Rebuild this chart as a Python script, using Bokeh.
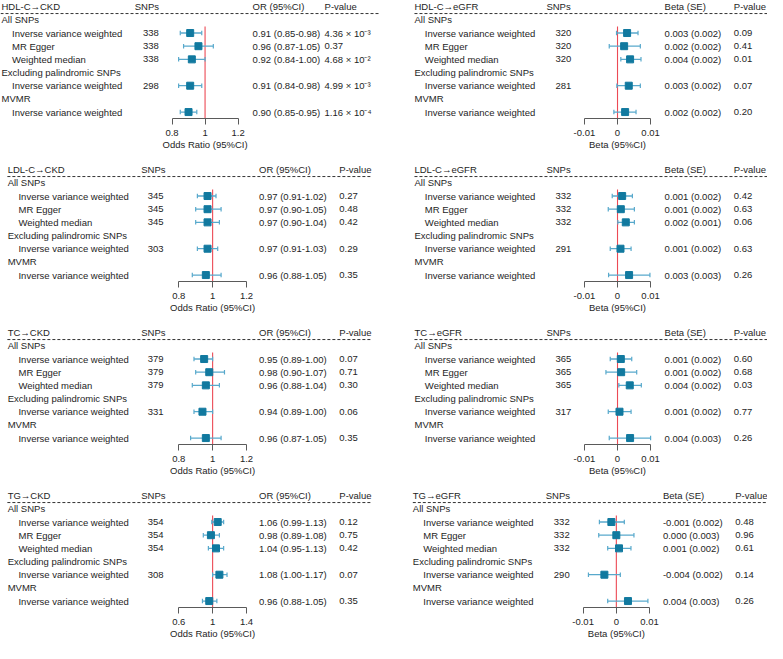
import numpy as np
from bokeh.plotting import figure
from bokeh.models import Range1d, LinearAxis, FixedTicker, Title
from bokeh.layouts import gridplot
from bokeh.embed import file_html
from bokeh.resources import INLINE
from bokeh.core.properties import value

# ---------------- data ----------------
groups = ["All SNPs", "Excluding palindromic SNPs", "MVMR"]
methods = ["Inverse variance weighted", "MR Egger", "Weighted median",
           "Inverse variance weighted", "Inverse variance weighted"]

ckd_ticks = [0.8, 1, 1.2]
ckd_tick_labels = ["0.8", "1", "1.2"]
tg_ckd_ticks = [0.6, 1, 1.4]
tg_ckd_tick_labels = ["0.6", "1", "1.4"]
egfr_ticks = [-0.01, 0, 0.01]
egfr_tick_labels = ["-0.01", "0", "0.01"]

# HDL-C -> CKD
hdl_ckd_snps = ["338", "338", "338", "298", ""]
hdl_ckd_or = [0.91, 0.96, 0.92, 0.91, 0.90]
hdl_ckd_lo = [0.85, 0.87, 0.84, 0.84, 0.85]
hdl_ckd_hi = [0.98, 1.05, 1.00, 0.98, 0.95]
hdl_ckd_txt = ["0.91 (0.85-0.98)", "0.96 (0.87-1.05)", "0.92 (0.84-1.00)", "0.91 (0.84-0.98)", "0.90 (0.85-0.95)"]
hdl_ckd_p = ["4.36 × 10⁻³", "0.37", "4.68 × 10⁻²", "4.99 × 10⁻³", "1.16 × 10⁻⁴"]

# LDL-C -> CKD
ldl_ckd_snps = ["345", "345", "345", "303", ""]
ldl_ckd_or = [0.97, 0.97, 0.97, 0.97, 0.96]
ldl_ckd_lo = [0.91, 0.90, 0.90, 0.91, 0.88]
ldl_ckd_hi = [1.02, 1.05, 1.04, 1.03, 1.05]
ldl_ckd_txt = ["0.97 (0.91-1.02)", "0.97 (0.90-1.05)", "0.97 (0.90-1.04)", "0.97 (0.91-1.03)", "0.96 (0.88-1.05)"]
ldl_ckd_p = ["0.27", "0.48", "0.42", "0.29", "0.35"]

# TC -> CKD
tc_ckd_snps = ["379", "379", "379", "331", ""]
tc_ckd_or = [0.95, 0.98, 0.96, 0.94, 0.96]
tc_ckd_lo = [0.89, 0.90, 0.88, 0.89, 0.87]
tc_ckd_hi = [1.00, 1.07, 1.04, 1.00, 1.05]
tc_ckd_txt = ["0.95 (0.89-1.00)", "0.98 (0.90-1.07)", "0.96 (0.88-1.04)", "0.94 (0.89-1.00)", "0.96 (0.87-1.05)"]
tc_ckd_p = ["0.07", "0.71", "0.30", "0.06", "0.35"]

# TG -> CKD
tg_ckd_snps = ["354", "354", "354", "308", ""]
tg_ckd_or = [1.06, 0.98, 1.04, 1.08, 0.96]
tg_ckd_lo = [0.99, 0.89, 0.95, 1.00, 0.88]
tg_ckd_hi = [1.13, 1.08, 1.13, 1.17, 1.05]
tg_ckd_txt = ["1.06 (0.99-1.13)", "0.98 (0.89-1.08)", "1.04 (0.95-1.13)", "1.08 (1.00-1.17)", "0.96 (0.88-1.05)"]
tg_ckd_p = ["0.12", "0.75", "0.42", "0.07", "0.35"]

# HDL-C -> eGFR
hdl_egfr_snps = ["320", "320", "320", "281", ""]
hdl_egfr_beta = [0.0029, 0.0020, 0.0038, 0.0034, 0.0023]
hdl_egfr_lo = [-0.0003, -0.0025, 0.0010, -0.0002, -0.0011]
hdl_egfr_hi = [0.0062, 0.0069, 0.0071, 0.0069, 0.0056]
hdl_egfr_txt = ["0.003 (0.002)", "0.002 (0.002)", "0.004 (0.002)", "0.003 (0.002)", "0.002 (0.002)"]
hdl_egfr_p = ["0.09", "0.41", "0.01", "0.07", "0.20"]

# LDL-C -> eGFR
ldl_egfr_snps = ["332", "332", "332", "291", ""]
ldl_egfr_beta = [0.0014, 0.0010, 0.0025, 0.0009, 0.0035]
ldl_egfr_lo = [-0.0016, -0.0028, 0.0001, -0.0022, -0.0027]
ldl_egfr_hi = [0.0045, 0.0051, 0.0051, 0.0041, 0.0098]
ldl_egfr_txt = ["0.001 (0.002)", "0.001 (0.002)", "0.002 (0.001)", "0.001 (0.002)", "0.003 (0.003)"]
ldl_egfr_p = ["0.42", "0.63", "0.06", "0.63", "0.26"]

# TC -> eGFR
tc_egfr_snps = ["365", "365", "365", "317", ""]
tc_egfr_beta = [0.0010, 0.0011, 0.0037, 0.0006, 0.0038]
tc_egfr_lo = [-0.0022, -0.0035, 0.0004, -0.0028, -0.0025]
tc_egfr_hi = [0.0043, 0.0058, 0.0072, 0.0041, 0.0100]
tc_egfr_txt = ["0.001 (0.002)", "0.001 (0.002)", "0.004 (0.002)", "0.001 (0.002)", "0.004 (0.003)"]
tc_egfr_p = ["0.60", "0.68", "0.03", "0.77", "0.26"]

# TG -> eGFR
tg_egfr_snps = ["332", "332", "332", "290", ""]
tg_egfr_beta = [-0.0015, 0.0000, 0.0008, -0.0036, 0.0035]
tg_egfr_lo = [-0.0051, -0.0053, -0.0026, -0.0084, -0.0026]
tg_egfr_hi = [0.0024, 0.0053, 0.0044, 0.0012, 0.0095]
tg_egfr_txt = ["-0.001 (0.002)", "0.000 (0.003)", "0.001 (0.002)", "-0.004 (0.002)", "0.004 (0.003)"]
tg_egfr_p = ["0.48", "0.96", "0.61", "0.14", "0.26"]

# ---------------- style / layout ----------------
FONT = "Liberation Sans"
FS = "9.5px"
TXT = "#1e1e1e"
SQ = "#11799f"
CIC = "#58a9cc"
RED = "#ec4a55"
AXC = "#5a5a5a"

W_PX = [383, 384]
X_REF = [(0, 390), (390, 783)]
R0S = [18, 186, 354, 522]
H_PX = [163, 163, 163, 154]
FRAME_PX = 118
ROW = 13.62
GROUP_ROWS = [0, 4, 6]
METHOD_ROWS = [1, 2, 3, 5, 7]

LAY_CKD_HDL = dict(title=1, indent=11.7, snps=136.7, num=145, est=256.7, p=330, nullx=208.3, k=168.3, dash=(0, 386))
LAY_CKD = dict(title=7.3, indent=18.3, snps=143.3, num=150, est=263.3, p=345, nullx=216, k=172.5, dash=(7, 378))
LAY_CKD_TG = dict(LAY_CKD, k=86.25)
LAY_EGFR = dict(title=421.7, indent=432.3, snps=556.7, num=566, est=677.7, p=748.5, nullx=629.5, k=3385, dash=(421.7, 783))
LAY_EGFR_TG = dict(title=420, indent=430.7, snps=556, num=564.3, est=676, p=750, nullx=628.3, k=3400, dash=(420, 783))

# approximate rendered widths (px) of the axis titles, used to centre them under the null line
LABEL_W = {"Odds Ratio (95%CI)": 85.0, "Beta (95%CI)": 57.0}


def make_panel(i, col, title, est_head, xlabel, null, ticks, tick_labels,
               snps, est, lo, hi, est_txt, pvals, lay):
    x0, x1 = X_REF[col]
    r0 = R0S[i]
    top, bot = r0 - 20, r0 + 102
    p = figure(width=W_PX[col], height=H_PX[i], output_backend="svg", toolbar_location=None,
               x_range=Range1d(x0, x1), y_range=Range1d(bot, top),
               x_axis_location=None, y_axis_location=None,
               min_border_left=0, min_border_right=0, min_border_top=0,
               min_border_bottom=H_PX[i] - FRAME_PX, outline_line_color=None,
               background_fill_color="white", border_fill_color="white")
    p.xgrid.visible = False
    p.ygrid.visible = False

    nx, k = lay["nullx"], lay["k"]
    p.extra_x_ranges = {"f": Range1d(null + (x0 - nx) / k, null + (x1 - nx) / k)}

    ax = LinearAxis(x_range_name="f", ticker=FixedTicker(ticks=ticks),
                    bounds=(ticks[0], ticks[-1]),
                    major_label_overrides={t: l for t, l in zip(ticks, tick_labels)})
    ax.major_label_text_font = FONT
    ax.major_label_text_font_size = FS
    ax.major_label_text_color = TXT
    ax.major_label_standoff = 5
    ax.axis_line_color = AXC
    ax.major_tick_line_color = AXC
    ax.major_tick_in = 0
    ax.major_tick_out = 6
    ax.minor_tick_line_color = None
    p.add_layout(ax, "below")

    # axis title centred under the null line
    px_per_ref = W_PX[col] / (x1 - x0)
    off = (nx - x0) * px_per_ref - LABEL_W[xlabel] / 2
    p.add_layout(Title(text=xlabel, align="left", offset=off, text_font=FONT,
                       text_font_size=FS, text_font_style="normal", text_color=TXT,
                       standoff=1, vertical_align="top"), "below")

    tstyle = dict(text_font=value(FONT), text_font_size=value(FS), text_color=TXT,
                  text_baseline="middle", text_align="left")
    hy = r0 - 13.5
    p.text(x=[lay["title"], lay["snps"], lay["est"], lay["p"]], y=[hy] * 4,
           text=[title, "SNPs", est_head, "P-value"], **tstyle)
    p.line(x=list(lay["dash"]), y=[r0 - 6.5] * 2, line_dash="3 2", line_color="#333333", line_width=1)

    gy = [r0 + ROW * r for r in GROUP_ROWS]
    my = [r0 + ROW * r for r in METHOD_ROWS]
    p.text(x=[lay["title"]] * len(groups), y=gy, text=groups, **tstyle)
    p.text(x=[lay["indent"]] * len(methods), y=my, text=methods, **tstyle)
    p.text(x=[lay["num"]] * len(snps), y=my, text=snps, **tstyle)
    p.text(x=[lay["est"]] * len(est_txt), y=my, text=est_txt, **tstyle)
    p.text(x=[lay["p"]] * len(pvals), y=my, text=pvals, **tstyle)

    # reference line
    p.segment(x0=[null], y0=[r0 + ROW * 0.5], x1=[null], y1=[bot], x_range_name="f",
              line_color=RED, line_width=1.1)
    # CIs
    p.segment(x0=lo, y0=my, x1=hi, y1=my, x_range_name="f", line_color=CIC, line_width=1.3)
    p.scatter(x=list(lo) + list(hi), y=my + my, marker="dash", angle=np.pi / 2, size=4.5,
              line_color=CIC, line_width=1.2, x_range_name="f")
    p.scatter(x=est, y=my, marker="square", size=7, fill_color=SQ, line_color=SQ, x_range_name="f")
    return p


OR_LAB = "Odds Ratio (95%CI)"
B_LAB = "Beta (95%CI)"

p1 = make_panel(0, 0, "HDL-C→CKD", "OR (95%CI)", OR_LAB, 1, ckd_ticks, ckd_tick_labels,
                hdl_ckd_snps, hdl_ckd_or, hdl_ckd_lo, hdl_ckd_hi, hdl_ckd_txt, hdl_ckd_p, LAY_CKD_HDL)
p2 = make_panel(0, 1, "HDL-C→eGFR", "Beta (SE)", B_LAB, 0, egfr_ticks, egfr_tick_labels,
                hdl_egfr_snps, hdl_egfr_beta, hdl_egfr_lo, hdl_egfr_hi, hdl_egfr_txt, hdl_egfr_p, LAY_EGFR)
p3 = make_panel(1, 0, "LDL-C→CKD", "OR (95%CI)", OR_LAB, 1, ckd_ticks, ckd_tick_labels,
                ldl_ckd_snps, ldl_ckd_or, ldl_ckd_lo, ldl_ckd_hi, ldl_ckd_txt, ldl_ckd_p, LAY_CKD)
p4 = make_panel(1, 1, "LDL-C→eGFR", "Beta (SE)", B_LAB, 0, egfr_ticks, egfr_tick_labels,
                ldl_egfr_snps, ldl_egfr_beta, ldl_egfr_lo, ldl_egfr_hi, ldl_egfr_txt, ldl_egfr_p, LAY_EGFR)
p5 = make_panel(2, 0, "TC→CKD", "OR (95%CI)", OR_LAB, 1, ckd_ticks, ckd_tick_labels,
                tc_ckd_snps, tc_ckd_or, tc_ckd_lo, tc_ckd_hi, tc_ckd_txt, tc_ckd_p, LAY_CKD)
p6 = make_panel(2, 1, "TC→eGFR", "Beta (SE)", B_LAB, 0, egfr_ticks, egfr_tick_labels,
                tc_egfr_snps, tc_egfr_beta, tc_egfr_lo, tc_egfr_hi, tc_egfr_txt, tc_egfr_p, LAY_EGFR)
p7 = make_panel(3, 0, "TG→CKD", "OR (95%CI)", OR_LAB, 1, tg_ckd_ticks, tg_ckd_tick_labels,
                tg_ckd_snps, tg_ckd_or, tg_ckd_lo, tg_ckd_hi, tg_ckd_txt, tg_ckd_p, LAY_CKD_TG)
p8 = make_panel(3, 1, "TG→eGFR", "Beta (SE)", B_LAB, 0, egfr_ticks, egfr_tick_labels,
                tg_egfr_snps, tg_egfr_beta, tg_egfr_lo, tg_egfr_hi, tg_egfr_txt, tg_egfr_p, LAY_EGFR_TG)

grid = gridplot([[p1, p2], [p3, p4], [p5, p6], [p7, p8]], toolbar_location=None)

open("out.html", "w").write(file_html(grid, INLINE))
